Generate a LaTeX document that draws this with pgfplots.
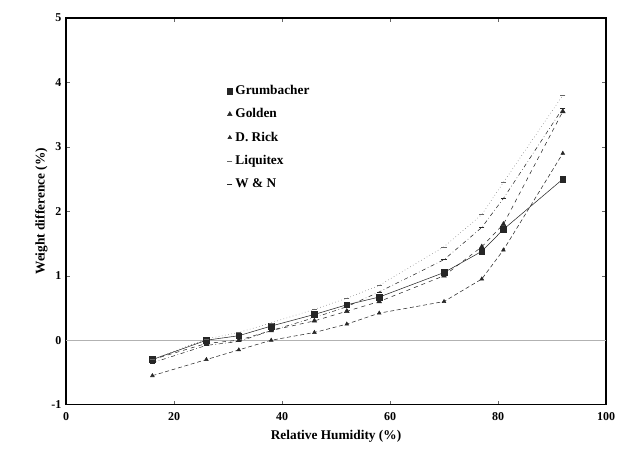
\documentclass[border=0pt]{standalone}
\usepackage{fontspec}
\setmainfont{Liberation Serif}
\usepackage{pgfplots}
\pgfplotsset{compat=1.18}

\begin{document}
\begin{tikzpicture}
\begin{axis}[name=ax,scale only axis,width=405pt,height=290pt,
  xmin=0,xmax=100,ymin=-1,ymax=5,
  xtick={0,20,...,100},ytick={-1,0,...,5},
  tick style={black!60,thin},tick align=inside,
  major tick length=3pt,
  axis line style={black,line width=0.9pt},
  tick label style={font=\bfseries\small},
  xticklabel style={yshift=-2pt},
  /pgf/number format/assume math mode=true,
  xlabel={\bfseries Relative Humidity (\%)},
  ylabel={\bfseries Weight difference (\%)},
  xlabel style={yshift=-1pt},
  ylabel style={yshift=-4pt},
  legend style={draw=none,fill=none,at={(0.29,0.84)},anchor=north west,
    font=\bfseries,row sep=5pt,cells={anchor=west}},
  legend image post style={solid},
  legend image code/.code={\draw[#1] plot coordinates {(0.1cm,0cm)};},
  every axis plot/.append style={black!85,thin}]
\addplot[gray!60,forget plot] coordinates {(0,0)(100,0)};
\addplot[mark=square*,mark size=2.2pt] coordinates {
  (16,-0.30)(26,0.00)(32,0.07)(38,0.22)(46,0.40)(52,0.55)(58,0.67)(70,1.05)(77,1.38)(81,1.72)(92,2.50)};
\addlegendentry{Grumbacher}
\addplot[dashed,mark=triangle*,mark size=2pt,mark options={solid}] coordinates {
  (16,-0.30)(26,-0.05)(32,0.00)(38,0.15)(46,0.30)(52,0.45)(58,0.60)(70,1.00)(77,1.45)(81,1.80)(92,3.55)};
\addlegendentry{Golden}
\addplot[densely dashed,mark=triangle*,mark size=1.6pt,mark options={solid}] coordinates {
  (16,-0.55)(26,-0.30)(32,-0.15)(38,0.00)(46,0.12)(52,0.25)(58,0.42)(70,0.60)(77,0.95)(81,1.40)(92,2.90)};
\addlegendentry{D. Rick}
\addplot[dotted,black!60,mark=-,mark size=2pt,mark options={solid}] coordinates {
  (16,-0.30)(26,0.02)(32,0.12)(38,0.27)(46,0.48)(52,0.65)(58,0.85)(70,1.45)(77,1.95)(81,2.45)(92,3.80)};
\addlegendentry{Liquitex}
\addplot[dash dot,mark=-,mark size=2pt,mark options={solid}] coordinates {
  (16,-0.35)(26,-0.08)(32,-0.02)(38,0.15)(46,0.35)(52,0.52)(58,0.75)(70,1.25)(77,1.75)(81,2.20)(92,3.60)};
\addlegendentry{W \& N}
\end{axis}
\pgfresetboundingbox
\path ([xshift=-49.5pt,yshift=-33pt]ax.south west) rectangle ([xshift=15pt,yshift=13.5pt]ax.north east);
\end{tikzpicture}
\end{document}
